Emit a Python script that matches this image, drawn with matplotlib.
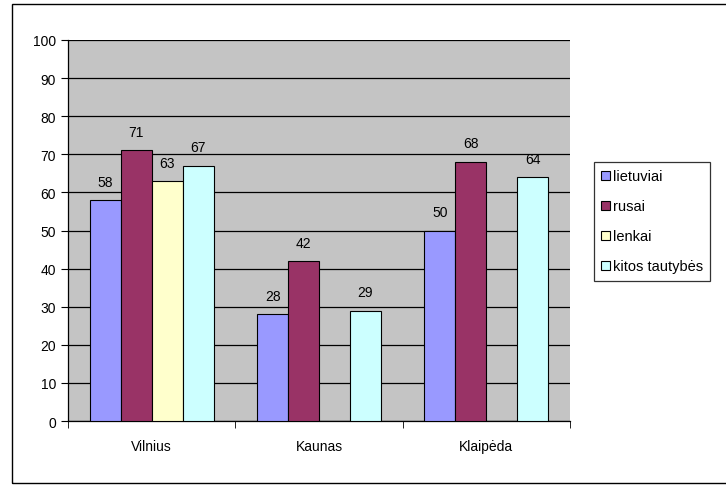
import matplotlib; matplotlib.use("Agg")
import matplotlib.pyplot as plt
import matplotlib.patches as mpatches
import numpy as np

plt.rcParams["font.family"] = ["Liberation Sans", "DejaVu Sans"]

cities = ["Vilnius", "Kaunas", "Klaipėda"]
series = ["lietuviai", "rusai", "lenkai", "kitos tautybės"]
lietuviai = [58, 28, 50]
rusai = [71, 42, 68]
lenkai = [63, 0, 0]
kitos = [67, 29, 64]
colors = ["#9999FF", "#993366", "#FFFFCC", "#CCFFFF"]

fig = plt.figure(figsize=(7.26, 4.89), dpi=100)
fig.patches.append(mpatches.Rectangle((12 / 726, 5 / 489), 1.0, 479 / 489,
                                      transform=fig.transFigure, fill=False,
                                      edgecolor="black", lw=1.0))
ax = fig.add_axes([68 / 726, 1 - 422 / 489, 502 / 726, 381 / 489])
ax.set_facecolor("#C4C4C4")

x = np.arange(len(cities))
w = 0.185
vals = [lietuviai, rusai, lenkai, kitos]
for i, (name, v, c) in enumerate(zip(series, vals, colors)):
    pos = x + (i - 1.5) * w
    ax.bar(pos, v, width=w, color=c, edgecolor="black", lw=0.8, label=name, zorder=3)
    for p, val in zip(pos, v):
        if val > 0:
            ax.text(p, val + 3, str(val), ha="center", va="bottom", fontsize=10)

ax.set_xlim(-0.5, 2.5)
ax.set_ylim(0, 100)
ax.set_yticks(range(0, 101, 10))
ax.yaxis.grid(True, color="black", lw=0.9, zorder=1)
ax.set_axisbelow(True)
for s in ["top", "right"]:
    ax.spines[s].set_visible(False)
ax.spines["left"].set_linewidth(0.9)
ax.spines["bottom"].set_linewidth(0.9)
ax.set_xticks(x)
ax.set_xticklabels(cities, fontsize=10)
ax.tick_params(axis="x", length=0, pad=13)
ax.set_xticks([-0.5, 0.5, 1.5, 2.5], minor=True)
ax.tick_params(axis="x", which="minor", length=5, direction="out")
ax.tick_params(axis="y", length=5, direction="out", labelsize=10)

leg = ax.legend(loc="upper left", bbox_to_anchor=(594 / 726, 1 - 163 / 489),
                bbox_transform=fig.transFigure, fontsize=10.5, frameon=True,
                fancybox=False, edgecolor="black", handlelength=0.6,
                handleheight=0.6, handletextpad=0.2, labelspacing=1.1,
                borderpad=0.5, borderaxespad=0)
leg.get_frame().set_linewidth(0.9)

fig.savefig("out.png", dpi=100)
